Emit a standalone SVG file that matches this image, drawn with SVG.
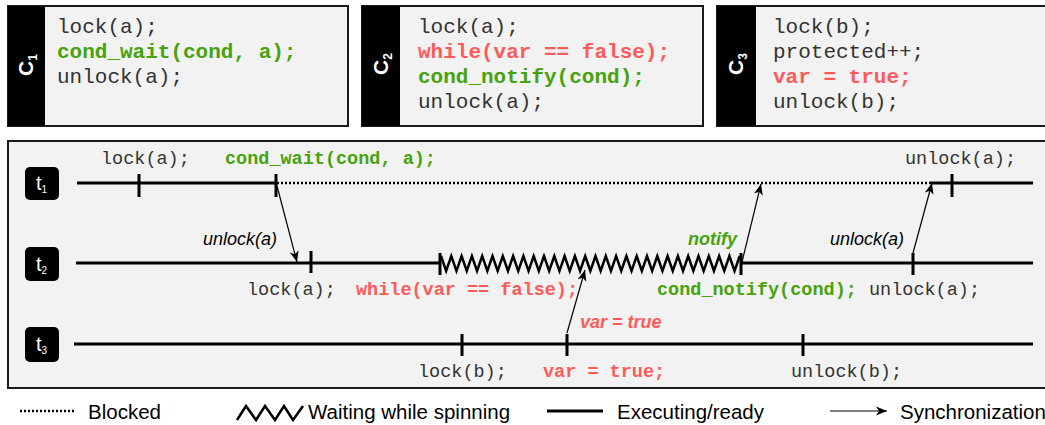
<svg xmlns="http://www.w3.org/2000/svg" width="1045" height="425" viewBox="0 0 1045 425">
<style>
.box{fill:#f2f2f2;stroke:#1a1a1a;stroke-width:2}
.strip{fill:#000}
.clabel{font-family:"Liberation Sans",Arial,sans-serif;font-weight:bold;font-size:21px;fill:#fff}
.code{font-family:"Liberation Mono","Courier New",monospace;font-size:21px;fill:#333}
.tl{font-family:"Liberation Mono","Courier New",monospace;font-size:18.5px;fill:#333}
.badge{fill:#000}
.tlabel{font-family:"Liberation Sans",Arial,sans-serif;font-size:20px;fill:#fff}
.line{stroke:#000;stroke-width:2.8;fill:none}
.dot{stroke:#000;stroke-width:2.5;stroke-dasharray:2 2;fill:none}
.tick{stroke:#000;stroke-width:3}
.zig{stroke:#000;stroke-width:2.5;fill:none;stroke-linejoin:miter}
.sync{stroke:#000;stroke-width:1.2;fill:none;marker-end:url(#arr)}
.it{font-family:"Liberation Sans",Arial,sans-serif;font-style:italic;font-size:18px;fill:#000}
.leg{font-family:"Liberation Sans",Arial,sans-serif;font-size:20.5px;fill:#000}
.b{font-weight:bold}
.g{fill:#46a30c}
.r{fill:#ff5a5a}
</style>
<defs>
<marker id="arr" markerUnits="userSpaceOnUse" markerWidth="12" markerHeight="10" refX="11" refY="5" orient="auto">
<path d="M0,0.5 L11,5 L0,9.5 L3,5 z" fill="#000"/>
</marker>
</defs>

<g id="c1">
<rect class="box" x="8" y="6" width="340" height="120"/>
<rect class="strip" x="8" y="6" width="37" height="120"/>
<text class="clabel" transform="translate(33,65) rotate(-90)" text-anchor="middle">C<tspan font-size="12" dy="4">1</tspan></text>
<text class="code" x="57" y="33">lock(a);</text>
<text class="code b g" x="57" y="58">cond_wait(cond, a);</text>
<text class="code" x="57" y="83">unlock(a);</text>
</g>

<g id="c2">
<rect class="box" x="362" y="6" width="341" height="120"/>
<rect class="strip" x="362" y="6" width="38" height="120"/>
<text class="clabel" transform="translate(388,64) rotate(-90)" text-anchor="middle">C<tspan font-size="12" dy="4">2</tspan></text>
<text class="code" x="418" y="33">lock(a);</text>
<text class="code b r" x="418" y="58">while(var == false);</text>
<text class="code b g" x="418" y="83">cond_notify(cond);</text>
<text class="code" x="418" y="108">unlock(a);</text>
</g>

<g id="c3">
<rect class="box" x="717" y="6" width="340" height="120"/>
<rect class="strip" x="717" y="6" width="39" height="120"/>
<text class="clabel" transform="translate(743,64) rotate(-90)" text-anchor="middle">C<tspan font-size="12" dy="4">3</tspan></text>
<text class="code" x="773" y="33">lock(b);</text>
<text class="code" x="773" y="58">protected++;</text>
<text class="code b r" x="773" y="83">var = true;</text>
<text class="code" x="773" y="108">unlock(b);</text>
</g>

<rect id="panel" class="box" x="8" y="141" width="1050" height="247"/>

<g id="t1">
<rect class="badge" x="25" y="167" width="34" height="33" rx="5"/>
<text class="tlabel" x="36" y="190">t<tspan font-size="10" dy="3">1</tspan></text>
<path class="line" d="M77,183 H276"/>
<path class="dot" d="M277,183 H930"/>
<path class="line" d="M930,183 H1033"/>
<path class="tick" d="M139,174 V197 M276,174 V197 M952,174 V197"/>
<text class="tl" x="101" y="164">lock(a);</text>
<text class="tl b g" x="225" y="164">cond_wait(cond, a);</text>
<text class="tl" x="905" y="164">unlock(a);</text>
</g>

<g id="t2">
<rect class="badge" x="25" y="247" width="34" height="34" rx="5"/>
<text class="tlabel" x="36" y="271">t<tspan font-size="10" dy="3">2</tspan></text>
<path class="line" d="M76,263 H440 M741,263 H1033"/>
<path class="zig" d="M441,256
 l5.15,15 l5.15,-15 l5.15,15 l5.15,-15 l5.15,15 l5.15,-15 l5.15,15 l5.15,-15 l5.15,15 l5.15,-15
 l5.15,15 l5.15,-15 l5.15,15 l5.15,-15 l5.15,15 l5.15,-15 l5.15,15 l5.15,-15 l5.15,15 l5.15,-15
 l5.15,15 l5.15,-15 l5.15,15 l5.15,-15 l5.15,15 l5.15,-15 l5.15,15 l5.15,-15 l5.15,15 l5.15,-15
 l5.15,15 l5.15,-15 l5.15,15 l5.15,-15 l5.15,15 l5.15,-15 l5.15,15 l5.15,-15 l5.15,15 l5.15,-15
 l5.15,15 l5.15,-15 l5.15,15 l5.15,-15 l5.15,15 l5.15,-15 l5.15,15 l5.15,-15 l5.15,15 l5.15,-15
 l5.15,15 l5.15,-15 l5.15,15 l5.15,-15 l5.15,15 l5.15,-15 l5.15,15 l5.15,-15"/>
<path class="tick" d="M311,251 V273 M440,253 V275 M741,253 V275 M913,253 V275"/>
<text class="tl" x="247" y="295">lock(a);</text>
<text class="tl b r" x="356" y="295">while(var == false);</text>
<text class="tl b g" x="657" y="295">cond_notify(cond);</text>
<text class="tl" x="869" y="295">unlock(a);</text>
</g>

<g id="t3">
<rect class="badge" x="25" y="327" width="34" height="35" rx="5"/>
<text class="tlabel" x="36" y="351">t<tspan font-size="10" dy="3">3</tspan></text>
<path class="line" d="M74,344 H1033"/>
<path class="tick" d="M462,334 V356 M567,334 V356 M803,334 V356"/>
<text class="tl" x="418" y="377">lock(b);</text>
<text class="tl b r" x="543" y="377">var = true;</text>
<text class="tl" x="791" y="377">unlock(b);</text>
</g>

<g id="connectors">
<path class="sync" d="M277,186 L297,262"/>
<path class="sync" d="M742,262 L761,184"/>
<path class="sync" d="M913,253 L932,183"/>
<path class="sync" d="M567,333 L585,270"/>
<text class="it" x="203" y="245">unlock(a)</text>
<text class="it b g" x="688" y="245">notify</text>
<text class="it" x="830" y="245">unlock(a)</text>
<text class="it b r" x="580" y="328" font-size="18.5">var = true</text>
</g>

<g id="legend">
<path class="dot" d="M20,411 H74" stroke-width="2"/>
<text class="leg" x="88" y="419">Blocked</text>
<path class="zig" d="M237,420 L246,406 L256,420 L265,406 L275,420 L284,406 L293,420 L303,406"/>
<text class="leg" x="308" y="419">Waiting while spinning</text>
<path class="line" d="M547,411 H603"/>
<text class="leg" x="617" y="419">Executing/ready</text>
<path class="sync" d="M830,411 H887"/>
<text class="leg" x="900" y="419">Synchronization</text>
</g>
</svg>
